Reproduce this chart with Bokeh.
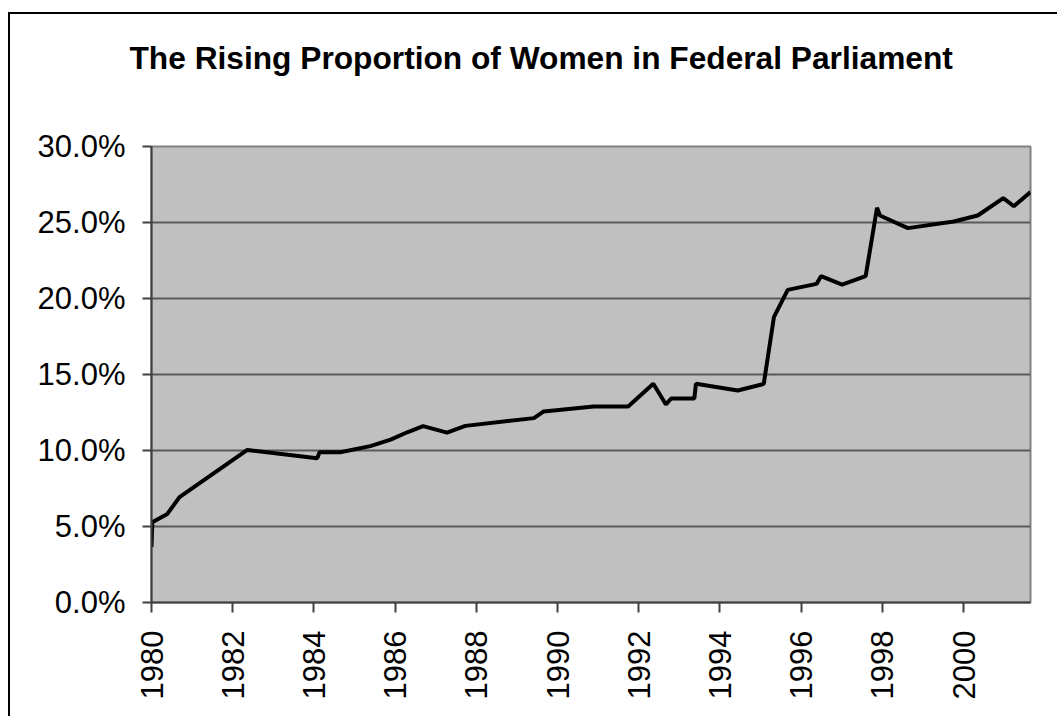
import math
from bokeh.plotting import figure
from bokeh.models import FixedTicker, NumeralTickFormatter, Range1d, Title
from bokeh.embed import file_html
from bokeh.resources import INLINE

title_text = "The Rising Proportion of Women in Federal Parliament"

years = [1980.00, 1980.02, 1980.39, 1980.69, 1982.36, 1984.08, 1984.14, 1984.65,
         1985.39, 1985.89, 1986.30, 1986.69, 1987.28, 1987.73, 1989.42, 1989.66,
         1990.89, 1991.74, 1992.36, 1992.67, 1992.80, 1993.37, 1993.41, 1994.44,
         1995.08, 1995.33, 1995.67, 1996.38, 1996.49, 1997.01, 1997.59, 1997.87,
         1997.94, 1998.63, 1999.76, 2000.35, 2000.98, 2001.24, 2001.65]
share = [0.0365, 0.0528, 0.0583, 0.0693, 0.1004, 0.0949, 0.0989, 0.0989,
         0.1029, 0.1072, 0.1120, 0.1160, 0.1118, 0.1162, 0.1213, 0.1257,
         0.1289, 0.1289, 0.1439, 0.1303, 0.1342, 0.1342, 0.1439, 0.1395,
         0.1438, 0.1877, 0.2057, 0.2096, 0.2147, 0.2092, 0.2147, 0.2597,
         0.2546, 0.2463, 0.2507, 0.2546, 0.2660, 0.2607, 0.2700]

x_ticks = [1980, 1982, 1984, 1986, 1988, 1990, 1992, 1994, 1996, 1998, 2000]
y_ticks = [0.0, 0.05, 0.10, 0.15, 0.20, 0.25, 0.30]

p = figure(width=1049, height=704, output_backend="svg", toolbar_location=None,
           x_range=Range1d(1980, 2001.65), y_range=Range1d(0, 0.30),
           min_border_left=141, min_border_right=29, min_border_top=132,
           min_border_bottom=116, title=None)
p.styles = {"border-top": "2px solid black", "border-left": "2px solid black",
            "margin-top": "12px", "margin-left": "8px"}

p.background_fill_color = "#c0c0c0"
p.border_fill_color = "white"
p.outline_line_color = "#808080"
p.outline_line_width = 2

spacer = Title(text=" ", text_font_size="49px")
p.add_layout(spacer, "above")
main_title = Title(text=title_text, text_font="Liberation Sans", text_font_style="bold",
                   text_font_size="31.7px", text_color="black", align="left", offset=-22)
p.add_layout(main_title, "above")

p.line(years, share, line_color="black", line_width=4)

for ax in (p.xaxis[0], p.yaxis[0]):
    ax.axis_line_color = "#404040"
    ax.axis_line_width = 2
    ax.major_tick_line_color = "#404040"
    ax.major_tick_line_width = 2
    ax.major_tick_in = 0
    ax.minor_tick_line_color = None
    ax.major_label_text_font = "Liberation Sans"
    ax.major_label_text_font_size = "31px"
    ax.major_label_text_color = "black"

p.xaxis.ticker = FixedTicker(ticks=x_ticks)
p.xaxis.major_tick_out = 10
p.xaxis.major_label_orientation = math.pi / 2
p.xaxis.major_label_standoff = 18
p.yaxis.ticker = FixedTicker(ticks=y_ticks)
p.yaxis.formatter = NumeralTickFormatter(format="0.0%")
p.yaxis.major_tick_out = 9
p.yaxis.major_label_standoff = 17

p.xgrid.grid_line_color = None
p.ygrid.grid_line_color = "#5a5a5a"
p.ygrid.grid_line_width = 2

open("out.html", "w").write(file_html(p, INLINE))
